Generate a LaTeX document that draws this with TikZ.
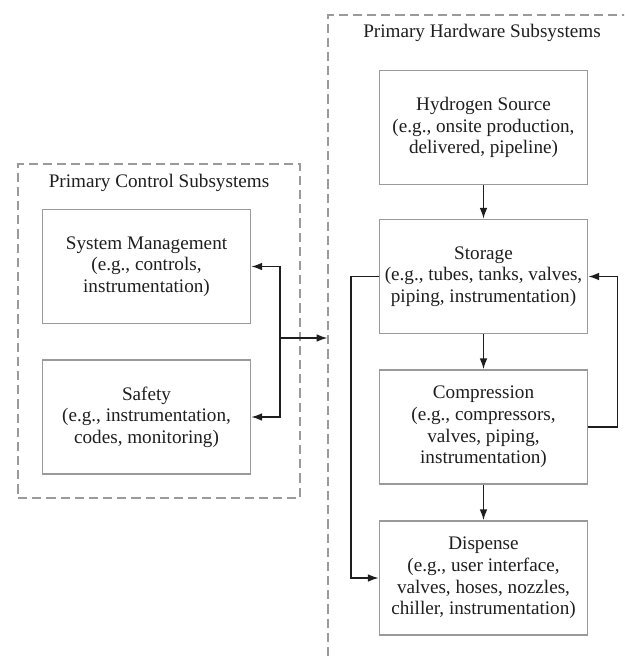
\documentclass[tikz,border=0pt]{standalone}
\usepackage{fontspec}
\setmainfont{Liberation Serif}
\usetikzlibrary{arrows.meta}
\definecolor{boxgray}{HTML}{9A9A9A}
\definecolor{inkdark}{HTML}{1E1E1E}

\tikzset{
    subsys/.style={draw=boxgray, line width=0.9pt, minimum width=124.8pt, minimum height=68.4pt,
        align=center, text=inkdark, font=\fontsize{11.5}{13}\selectfont, inner sep=2pt},
    frame/.style={draw=boxgray, line width=0.7pt, dash pattern=on 5.5pt off 3pt},
    flow/.style={draw=inkdark, line width=0.9pt, -{Latex[length=6.5pt,width=4.6pt]}},
    heading/.style={text=inkdark, font=\fontsize{11.5}{13}\selectfont}
}

\begin{document}
\begin{tikzpicture}[x=0.6pt, y=-0.6pt]
    \clip (0,0) rectangle (624,657);

    % dashed frames
    \node[frame, minimum width=169.2pt, minimum height=200.4pt] (ctrl) at (159,331) {};
    \node[frame, minimum width=193.2pt, minimum height=399pt] (hw) at (489,347.5) {};
    \node[heading] (ctrltitle) at (159,183) {Primary Control Subsystems};
    \node[heading] (hwtitle) at (482,33) {Primary Hardware Subsystems};

    % control side
    \node[subsys] (sysmgmt) at (146.5,266.5) {System Management\\(e.g., controls,\\instrumentation)};
    \node[subsys] (safety) at (146.5,417) {Safety\\(e.g., instrumentation,\\codes, monitoring)};

    % hardware side
    \node[subsys] (hsrc) at (483.5,127.5) {Hydrogen Source\\(e.g., onsite production,\\delivered, pipeline)};
    \node[subsys] (storage) at (483.5,276.5) {Storage\\(e.g., tubes, tanks, valves,\\piping, instrumentation)};
    \node[subsys] (compr) at (483.5,427) {Compression\\(e.g., compressors,\\valves, piping,\\instrumentation)};
    \node[subsys] (disp) at (483.5,578) {Dispense\\(e.g., user interface,\\valves, hoses, nozzles,\\chiller, instrumentation)};

    % connectors
    \coordinate (bus) at (280,338);
    \draw[flow] (bus) |- (sysmgmt.east);
    \draw[flow] (bus) |- (safety.east);
    \draw[flow] (bus) -- (bus -| hw.west);

    \draw[flow] (hsrc) -- (storage);
    \draw[flow] (storage) -- (compr);
    \draw[flow] (compr) -- (disp);
    \draw[flow] (storage.west) -- ++(-28,0) |- (disp.west);
    \draw[flow] (compr.east) -- ++(29,0) |- (storage.east);
\end{tikzpicture}
\end{document}
